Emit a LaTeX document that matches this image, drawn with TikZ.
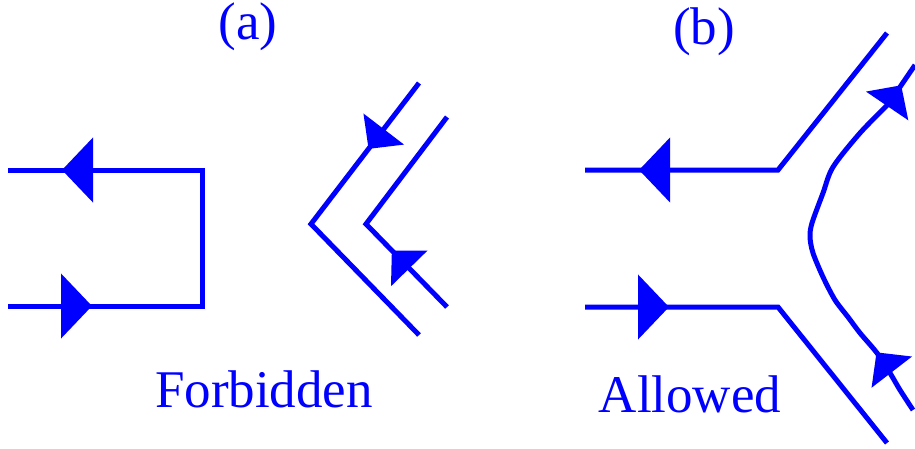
\documentclass[tikz,border=0pt]{standalone}
\usepackage{fontspec}
\setmainfont{Liberation Serif}
\usetikzlibrary{arrows.meta,decorations.markings}
\definecolor{QuarkBlue}{HTML}{0000FF}
\tikzset{
  quark/.style={QuarkBlue, line width=5pt, postaction={decorate}},
  bigtri/.tip={Triangle[length=31pt, width=64pt]},
  smalltri/.tip={Triangle[length=25pt, width=50pt]},
  caption/.style={text=QuarkBlue, anchor=base, inner sep=0pt, font=\fontsize{53}{60}\selectfont}
}

\begin{document}
\begin{tikzpicture}[x=1pt, y=-1pt]
  \useasboundingbox (0,0) rectangle (915,448);

  % (a) forbidden
  \coordinate (a-in) at (8,306);
  \coordinate (a-br) at (202,306);
  \coordinate (a-tr) at (202,170);
  \coordinate (a-out) at (8,170);
  \draw[quark, decoration={markings,
      mark=at position 84pt with {\arrow{bigtri}},
      mark=at position 470pt with {\arrow{bigtri}}}]
    (a-in) -- (a-br) -- (a-tr) -- (a-out);

  \coordinate (outer-top) at (419,83);
  \coordinate (outer-v) at (311,224);
  \coordinate (outer-bot) at (419,335);
  \draw[quark, decoration={markings, mark=at position 83pt with {\arrow{smalltri}}}]
    (outer-top) -- (outer-v) -- (outer-bot);

  \coordinate (inner-bot) at (447,307);
  \coordinate (inner-v) at (366,224);
  \coordinate (inner-top) at (447,117);
  \draw[quark, decoration={markings, mark=at position 79pt with {\arrow{smalltri}}}]
    (inner-bot) -- (inner-v) -- (inner-top);

  % (b) allowed
  \coordinate (b-tend) at (887,33);
  \coordinate (b-tc) at (778,170);
  \coordinate (b-tl) at (585,170);
  \draw[quark, decoration={markings, mark=at position 314pt with {\arrow{bigtri}}}]
    (b-tend) -- (b-tc) -- (b-tl);

  \coordinate (b-bl) at (585,307);
  \coordinate (b-bc) at (778,307);
  \coordinate (b-bend) at (887,443);
  \draw[quark, decoration={markings, mark=at position 84pt with {\arrow{bigtri}}}]
    (b-bl) -- (b-bc) -- (b-bend);

  \draw[quark, decoration={markings,
      mark=at position 0.167 with {\arrow{smalltri}},
      mark=at position 0.94 with {\arrow{smalltri}}}]
    plot[smooth, tension=0.5] coordinates {(913,410) (900,390) (890,373) (877,353) (860,333)
      (848,317) (835,300) (823,277) (813,253) (810,237) (812,223) (823,193)
      (833,167) (860,133) (890,102) (900,87) (915,65)};

  % labels
  \node[caption] (taga) at (248,39) {(a)};
  \node[caption] (tagb) at (704,44) {(b)};
  \node[caption] (forbid) at (264,407) {Forbidden};
  \node[caption] (allow) at (690,412) {Allowed};
\end{tikzpicture}
\end{document}
